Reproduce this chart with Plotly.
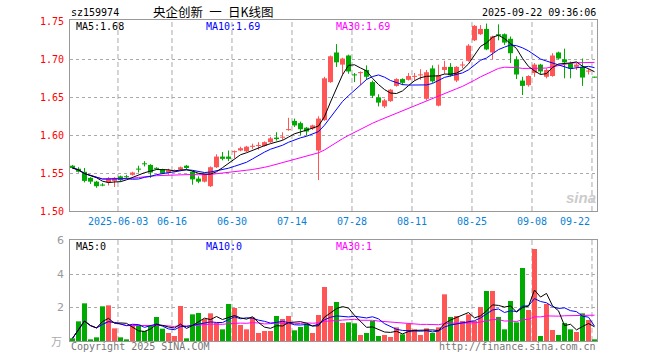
import pandas as pd
import plotly.graph_objects as go

# ---------------- data ----------------
trade_days = [d.strftime("%Y-%m-%d") for d in pd.bdate_range("2025-05-21", "2025-09-22")
              if d.strftime("%Y-%m-%d") != "2025-06-02"]

opens = [1.560, 1.556, 1.552, 1.544, 1.539, 1.535, 1.538, 1.540, 1.546, 1.546,
         1.548, 1.556, 1.563, 1.561, 1.557, 1.555, 1.551, 1.553, 1.555, 1.560,
         1.552, 1.543, 1.539, 1.533, 1.558, 1.572, 1.572, 1.578, 1.580, 1.579,
         1.585, 1.586, 1.586, 1.591, 1.597, 1.597, 1.607, 1.619, 1.616, 1.610,
         1.609, 1.580, 1.620, 1.670, 1.709, 1.693, 1.705, 1.680, 1.682, 1.686,
         1.670, 1.650, 1.638, 1.645, 1.665, 1.674, 1.673, 1.677, 1.679, 1.648,
         1.688, 1.639, 1.686, 1.690, 1.672, 1.692, 1.698, 1.725, 1.733, 1.740,
         1.709, 1.733, 1.733, 1.727, 1.700, 1.672, 1.666, 1.682, 1.693, 1.677,
         1.678, 1.709, 1.700, 1.695, 1.690, 1.690, 1.684, 1.677]
highs = [1.561, 1.558, 1.557, 1.545, 1.540, 1.537, 1.545, 1.545, 1.547, 1.548,
         1.552, 1.560, 1.566, 1.562, 1.558, 1.556, 1.556, 1.555, 1.559, 1.561,
         1.553, 1.546, 1.549, 1.559, 1.575, 1.578, 1.580, 1.580, 1.585, 1.586,
         1.589, 1.591, 1.592, 1.598, 1.604, 1.604, 1.623, 1.622, 1.618, 1.611,
         1.614, 1.625, 1.677, 1.705, 1.720, 1.702, 1.706, 1.682, 1.684, 1.692,
         1.672, 1.654, 1.648, 1.661, 1.675, 1.675, 1.682, 1.682, 1.687, 1.686,
         1.692, 1.693, 1.698, 1.695, 1.691, 1.697, 1.720, 1.745, 1.745, 1.747,
         1.731, 1.746, 1.734, 1.730, 1.704, 1.677, 1.679, 1.695, 1.694, 1.688,
         1.708, 1.710, 1.714, 1.697, 1.695, 1.701, 1.688, 1.677]
lows = [1.556, 1.551, 1.538, 1.536, 1.531, 1.533, 1.534, 1.532, 1.539, 1.543,
        1.547, 1.551, 1.559, 1.544, 1.555, 1.549, 1.548, 1.552, 1.554, 1.555,
        1.535, 1.537, 1.538, 1.532, 1.557, 1.567, 1.566, 1.570, 1.579, 1.578,
        1.582, 1.581, 1.585, 1.590, 1.593, 1.594, 1.606, 1.611, 1.600, 1.600,
        1.607, 1.541, 1.619, 1.669, 1.690, 1.680, 1.681, 1.670, 1.666, 1.673,
        1.649, 1.638, 1.636, 1.644, 1.664, 1.666, 1.672, 1.672, 1.673, 1.646,
        1.669, 1.638, 1.681, 1.677, 1.670, 1.688, 1.697, 1.724, 1.732, 1.712,
        1.700, 1.725, 1.719, 1.695, 1.674, 1.653, 1.664, 1.677, 1.680, 1.675,
        1.677, 1.700, 1.675, 1.675, 1.686, 1.665, 1.680, 1.676]
closes = [1.557, 1.552, 1.540, 1.539, 1.533, 1.534, 1.543, 1.544, 1.541, 1.545,
          1.551, 1.555, 1.562, 1.551, 1.556, 1.550, 1.554, 1.554, 1.558, 1.557,
          1.542, 1.539, 1.549, 1.558, 1.572, 1.569, 1.569, 1.579, 1.583, 1.585,
          1.586, 1.587, 1.591, 1.596, 1.595, 1.598, 1.608, 1.613, 1.608, 1.605,
          1.613, 1.622, 1.675, 1.704, 1.696, 1.701, 1.684, 1.679, 1.683, 1.677,
          1.652, 1.643, 1.646, 1.660, 1.674, 1.669, 1.678, 1.678, 1.680, 1.683,
          1.671, 1.679, 1.690, 1.679, 1.690, 1.693, 1.718, 1.744, 1.740, 1.713,
          1.730, 1.731, 1.722, 1.708, 1.680, 1.665, 1.678, 1.693, 1.684, 1.686,
          1.705, 1.701, 1.696, 1.688, 1.693, 1.676, 1.685, 1.676]
# volume, in units of 10k (万)
volumes = [0.16, 1.18, 2.26, 0.10, 0.22, 2.08, 2.14, 0.76, 0.22, 0.10,
           0.98, 0.98, 0.60, 0.94, 1.44, 0.74, 0.48, 0.30, 2.10, 0.16,
           1.60, 1.68, 1.32, 1.66, 1.08, 0.70, 2.22, 1.98, 0.96, 0.70,
           1.42, 0.48, 0.60, 0.60, 1.50, 1.32, 1.50, 0.64, 0.84, 1.04,
           0.48, 1.56, 3.24, 2.10, 2.34, 1.08, 1.12, 1.06, 0.36, 0.48,
           1.20, 0.30, 0.36, 0.24, 0.82, 0.40, 1.02, 0.70, 0.36, 0.76,
           0.48, 0.82, 2.80, 1.44, 1.50, 1.20, 1.60, 1.20, 2.04, 3.00,
           3.00, 1.44, 0.70, 2.40, 1.12, 4.38, 1.86, 5.52, 0.30, 2.22,
           0.66, 0.36, 1.08, 0.70, 0.54, 1.66, 1.26, 0.10]

tick_dates = ["2025-06-03", "2025-06-16", "2025-06-30", "2025-07-14", "2025-07-28",
              "2025-08-11", "2025-08-25", "2025-09-08", "2025-09-22"]
tick_labels = ["2025-06-03", "06-16", "06-30", "07-14", "07-28",
               "08-11", "08-25", "09-08", "09-22"]
price_ticks = [1.50, 1.55, 1.60, 1.65, 1.70, 1.75]
vol_ticks = [2, 4, 6]

# ---------------- styling ----------------
W, H = 660, 360
X0, X1 = 70, 597
MAIN_TOP, MAIN_BOT = 20, 211
VOL_TOP, VOL_BOT = 240, 341
RED, GREEN = "#ff5555", "#00aa00"
MONO = "DejaVu Sans Mono, Liberation Mono, monospace"

n = len(closes)
idx = list(range(n))
cols = [RED if c >= o else GREEN for o, c in zip(opens, closes)]

def fy(px):
    return 1 - px / H

fig = go.Figure()

# wicks
for color in (RED, GREEN):
    xs, ys = [], []
    for i in idx:
        if cols[i] == color:
            xs += [i, i, None]
            ys += [lows[i], highs[i], None]
    fig.add_trace(go.Scatter(x=xs, y=ys, mode="lines", line=dict(color=color, width=1),
                             xaxis="x", yaxis="y", hoverinfo="skip"))

# bodies
min_h = 0.0014
base = [min(o, c) for o, c in zip(opens, closes)]
hgt = [max(abs(c - o), min_h) for o, c in zip(opens, closes)]
base = [b - (min_h - abs(c - o)) / 2 if abs(c - o) < min_h else b
        for b, o, c in zip(base, opens, closes)]
fig.add_trace(go.Bar(x=idx, y=hgt, base=base, width=0.83, marker=dict(color=cols, line=dict(width=0)),
                     xaxis="x", yaxis="y", hoverinfo="skip"))

# moving averages (price)
cs = pd.Series(closes)
for win, color in ((30, "#ff00ff"), (10, "#0000ff"), (5, "#000000")):
    ma = cs.rolling(win, min_periods=1).mean()
    fig.add_trace(go.Scatter(x=idx, y=ma, mode="lines", line=dict(color=color, width=1),
                             xaxis="x", yaxis="y", hoverinfo="skip"))

# volume
fig.add_trace(go.Bar(x=idx, y=volumes, width=0.83, marker=dict(color=cols, line=dict(width=0)),
                     xaxis="x2", yaxis="y2", hoverinfo="skip"))
vs = pd.Series(volumes)
for win, color in ((30, "#ff00ff"), (10, "#0000ff"), (5, "#000000")):
    ma = vs.rolling(win, min_periods=1).mean()
    fig.add_trace(go.Scatter(x=idx, y=ma, mode="lines", line=dict(color=color, width=1),
                             xaxis="x2", yaxis="y2", hoverinfo="skip"))

xr = [-2.5 / 6, (X1 - 72.5) / 6]
axis_common = dict(showline=True, linecolor="#999999", linewidth=1, mirror=True,
                   zeroline=False, showticklabels=False, ticks="", fixedrange=True)
price_per_px = 0.05 / 38.0
y_lo = 1.50 - (MAIN_BOT - 211.3) * price_per_px
y_hi = 1.75 + (21.3 - MAIN_TOP) * price_per_px
fig.update_layout(
    width=W, height=H, margin=dict(l=0, r=0, t=0, b=0),
    paper_bgcolor="white", plot_bgcolor="white", showlegend=False, barmode="overlay",
    xaxis=dict(domain=[X0 / W, X1 / W], range=xr, anchor="y", showgrid=False, **axis_common),
    yaxis=dict(domain=[fy(MAIN_BOT), fy(MAIN_TOP)], range=[y_lo, y_hi],
               anchor="x", showgrid=True, gridcolor="#aaaaaa", griddash="dot", gridwidth=1,
               tickmode="array", tickvals=[1.55, 1.60, 1.65, 1.70], **axis_common),
    xaxis2=dict(domain=[X0 / W, X1 / W], range=xr, anchor="y2", showgrid=False, **axis_common),
    yaxis2=dict(domain=[fy(VOL_BOT), fy(VOL_TOP)], range=[0, 6.06], anchor="x2",
                showgrid=True, gridcolor="#aaaaaa", griddash="dot", gridwidth=1,
                tickmode="array", tickvals=[2, 4], **axis_common),
)

# vertical dashed grid lines + date labels
shapes = []
annotations = []
for d, lab in zip(tick_dates, tick_labels):
    i = trade_days.index(d)
    xv = i - 0.42
    for top, bot in ((MAIN_TOP, MAIN_BOT), (VOL_TOP, VOL_BOT)):
        shapes.append(dict(type="line", xref="x", yref="paper", x0=xv, x1=xv,
                           y0=fy(bot), y1=fy(top), line=dict(color="#aaaaaa", width=1, dash="5px,3px"),
                           layer="below"))
    last = (d == tick_dates[-1])
    annotations.append(dict(x=xv, y=fy(221.5), xref="x", yref="paper", text=lab, showarrow=False,
                            xanchor="right" if last else "center", yanchor="middle",
                            font=dict(family=MONO, size=10, color="#0a7fd6")))

# price labels (positioned in paper space so the edge labels are always shown)
main_frac0, main_frac1 = fy(MAIN_BOT), fy(MAIN_TOP)
for p in price_ticks:
    yp = main_frac0 + (p - y_lo) / (y_hi - y_lo) * (main_frac1 - main_frac0)
    annotations.append(dict(x=66 / W, y=yp, xref="paper", yref="paper", text=f"{p:.2f}", showarrow=False,
                            xanchor="right", yanchor="middle", font=dict(family=MONO, size=10, color="#ff0000")))
vol_frac0, vol_frac1 = fy(VOL_BOT), fy(VOL_TOP)
for v in vol_ticks:
    yp = vol_frac0 + v / 6.06 * (vol_frac1 - vol_frac0)
    annotations.append(dict(x=66 / W, y=yp, xref="paper", yref="paper", text=str(v), showarrow=False,
                            xanchor="right", yanchor="middle",
                            font=dict(family="DejaVu Sans, sans-serif", size=11, color="#999999")))
annotations.append(dict(x=64 / W, y=fy(341), xref="paper", yref="paper", text="万", showarrow=False,
                        xanchor="right", yanchor="middle",
                        font=dict(family="Noto Sans CJK SC", size=11, color="#aaaaaa")))

def txt(x, y, s, color, size=10, fam=MONO, xa="left"):
    annotations.append(dict(x=x / W, y=fy(y), xref="paper", yref="paper", text=s, showarrow=False,
                            xanchor=xa, yanchor="middle", borderpad=0,
                            font=dict(family=fam, size=size, color=color)))

txt(70, 12.5, "sz159974", "#000000")
txt(213, 12, "央企创新\u2002一\u2002日K线图", "#000000", size=12.5, fam="Noto Sans CJK SC", xa="center")
txt(597, 12.5, "2025-09-22 09:36:06", "#000000", xa="right")
txt(75, 27, "MA5:1.68", "#000000")
txt(205, 27, "MA10:1.69", "#0000ff")
txt(335, 27, "MA30:1.69", "#ff00ff")
txt(75, 246.5, "MA5:0", "#000000")
txt(205, 246.5, "MA10:0", "#0000ff")
txt(335, 246.5, "MA30:1", "#ff00ff")
txt(70, 346, "Copyright 2025 SINA.COM", "#777777")
txt(597, 346, "http://finance.sina.com.cn", "#777777", xa="right")
txt(581, 197, "<i><b>sina</b></i>", "#cccccc", size=15, fam="Arial, Liberation Sans, sans-serif", xa="center")

fig.update_layout(shapes=shapes, annotations=annotations)
fig.write_html("out.html", config={"displayModeBar": False, "staticPlot": True},
               post_script="document.body.style.margin='0px';document.body.style.padding='0px';")
